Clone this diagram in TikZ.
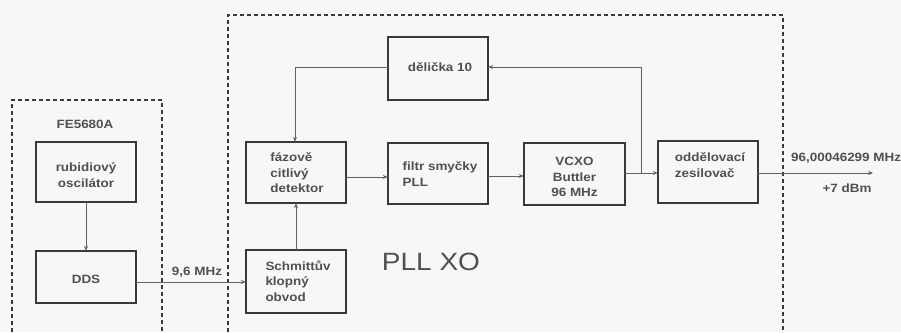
\documentclass[tikz,border=0pt]{standalone}
\usepackage{fontspec}
\setmainfont{Liberation Sans}[FakeStretch=1.12]
\usetikzlibrary{arrows.meta}
\definecolor{boxc}{HTML}{3A3A3A}
\definecolor{txtc}{HTML}{505050}
\definecolor{linec}{HTML}{606060}
\definecolor{paper}{HTML}{F7F7F5}
\begin{document}
\begin{tikzpicture}[x=1pt,y=-1pt,
  blk/.style={draw=boxc,line width=1.8pt,fill=none},
  lbl/.style={text=txtc,font=\fontsize{12}{15.5}\selectfont\bfseries,inner sep=0pt},
  conn/.style={draw=linec,line width=1pt,-{Stealth[length=5pt,width=4pt]}},
  frame/.style={draw=boxc,line width=1.6pt,dash pattern=on 4pt off 3pt}]
\fill[paper] (0,0) rectangle (901,332);
\useasboundingbox (0,0) rectangle (901,332);
% dashed frames
\draw[frame] (12,332) -- (12,100) -- (162,100) -- (162,332);
\draw[frame] (228,332) -- (228,15) -- (783,15) -- (783,332);
% boxes
\draw[blk] (36,142) rectangle (136,202);
\draw[blk] (36,251) rectangle (136,303);
\draw[blk] (388,37) rectangle (488,100);
\draw[blk] (246,142) rectangle (346,203);
\draw[blk] (388,143) rectangle (488,204);
\draw[blk] (246,250) rectangle (346,313);
\draw[blk] (524,143) rectangle (625,205);
\draw[blk] (658,141) rectangle (758,203);
% node anchors for connectors
\node[minimum width=100pt,minimum height=60pt,inner sep=0pt] (rubb) at (86,172) {};
\node[minimum width=100pt,minimum height=52pt,inner sep=0pt] (ddsb) at (86,277) {};
\node[minimum width=100pt,minimum height=63pt,inner sep=0pt] (del) at (438,68.5) {};
\node[minimum width=100pt,minimum height=61pt,inner sep=0pt] (faz) at (296,172.5) {};
\node[minimum width=100pt,minimum height=61pt,inner sep=0pt] (fil) at (438,173.5) {};
\node[minimum width=100pt,minimum height=63pt,inner sep=0pt] (sch) at (296,281.5) {};
\node[minimum width=101pt,minimum height=62pt,inner sep=0pt] (vco) at (574.5,174) {};
\node[minimum width=100pt,minimum height=62pt,inner sep=0pt] (odd) at (708,172) {};
% labels
\node[lbl] at (85,124) {FE5680A};
\node[lbl,align=center] at (86,175) {rubidiový\\oscilátor};
\node[lbl] at (86,279) {DDS};
\node[lbl] at (440,67) {dělička 10};
\node[lbl,align=left] at (297,173) {fázově\\citlivý\\detektor};
\node[lbl,align=left] at (440,174) {filtr smyčky\\PLL};
\node[lbl,align=left] at (298,281) {Schmittův\\klopný\\obvod};
\node[lbl,align=center] at (574.5,177) {VCXO\\Buttler\\96 MHz};
\node[lbl,align=left] at (710,165) {oddělovací\\zesilovač};
\node[text=txtc,font=\fontsize{25}{28}\selectfont,inner sep=0pt] at (431,262) {PLL XO};
% connectors
\coordinate (br) at (641,173);
\coordinate (outp) at (873,173);
\draw[conn] (rubb.south) -- (ddsb.north);
\draw[conn] (ddsb.east |- 0,282) -- (sch.west |- 0,282);
\node[lbl,anchor=south] (f96) at (197,278) {9,6 MHz};
\draw[conn] (sch.north) -- (faz.south);
\draw[conn] (faz.east |- 0,177) -- (fil.west |- 0,177);
\draw[conn] (fil.east |- 0,176) -- (vco.west |- 0,176);
\draw[conn] (vco.east |- 0,173) -- (odd.west |- 0,173);
\draw[conn] (br) -- (641,67) -- (del.east |- 0,67);
\draw[conn] (del.west |- 0,67) -- (295,67) -- (faz.north -| 295,0);
\draw[conn] (odd.east |- 0,173) -- (outp);
\node[lbl,anchor=west] at (791,158) {96,00046299 MHz};
\node[lbl] at (847,188) {+7 dBm};
\end{tikzpicture}
\end{document}
